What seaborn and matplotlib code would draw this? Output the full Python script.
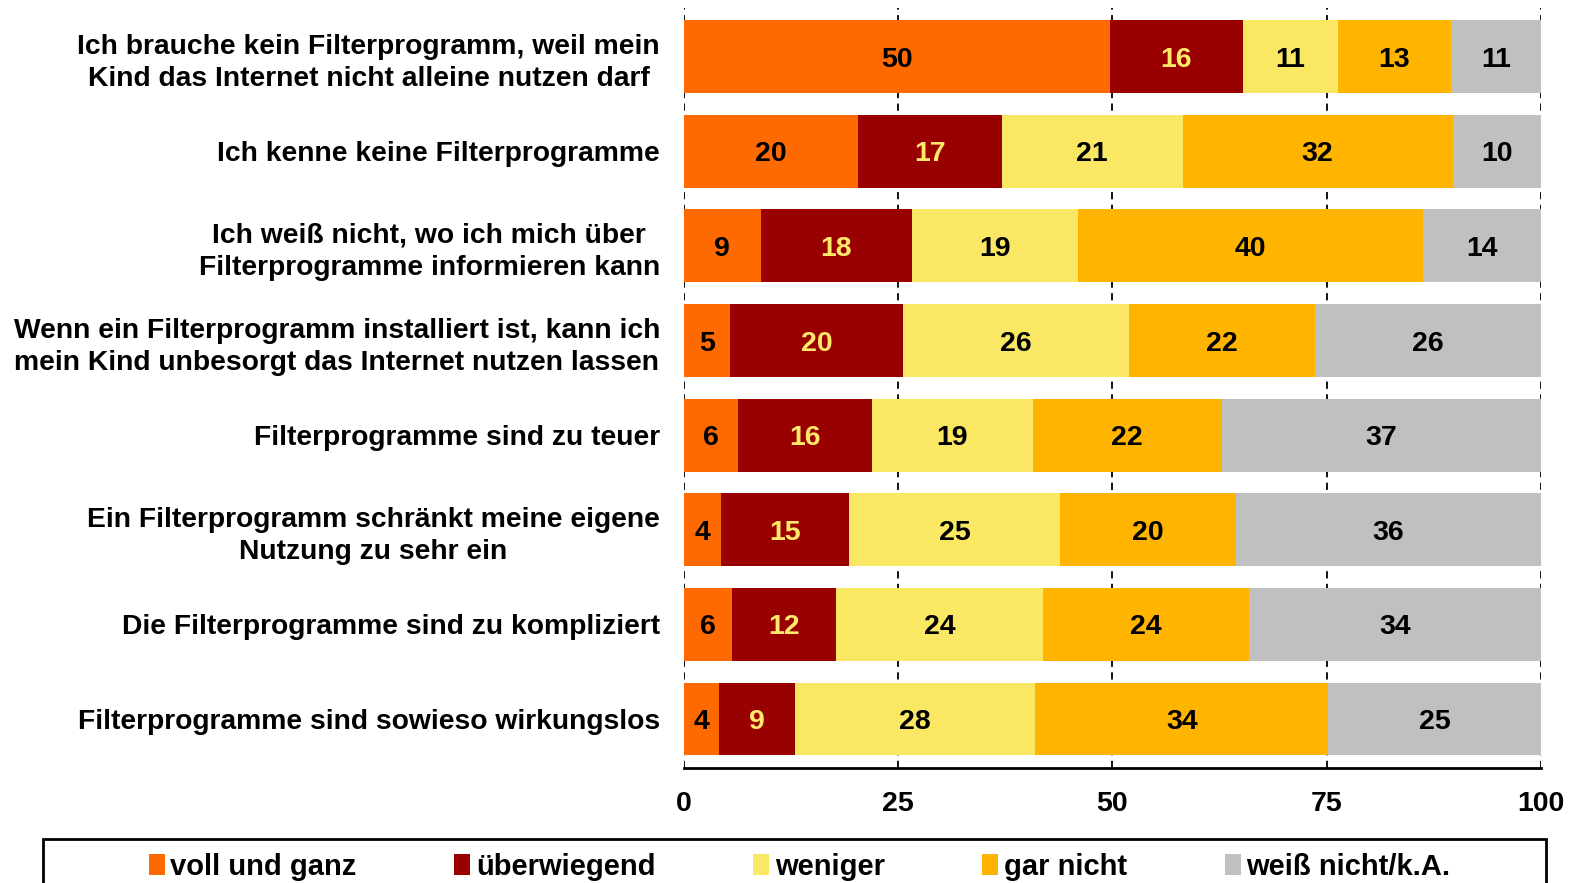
# Filterprogramme - gestapeltes Balkendiagramm (Zustimmung in %)
import numpy as np
import pandas as pd
import seaborn as sns
import matplotlib.pyplot as plt
from matplotlib.patches import Patch, Rectangle

# ================================
# 1. Daten
# ================================
aussagen = [
    "Ich brauche kein Filterprogramm, weil mein\nKind das Internet nicht alleine nutzen darf",
    "Ich kenne keine Filterprogramme",
    "Ich weiß nicht, wo ich mich über\nFilterprogramme informieren kann",
    "Wenn ein Filterprogramm installiert ist, kann ich\nmein Kind unbesorgt das Internet nutzen lassen",
    "Filterprogramme sind zu teuer",
    "Ein Filterprogramm schränkt meine eigene\nNutzung zu sehr ein",
    "Die Filterprogramme sind zu kompliziert",
    "Filterprogramme sind sowieso wirkungslos",
]

# Segmentbreiten und gerundete Beschriftungen
voll = [49.7, 20.3, 9.0, 5.4, 6.3, 4.4, 5.6, 4.1]
ueberwiegend = [15.5, 16.8, 17.6, 20.2, 15.7, 14.9, 12.2, 8.9]
weniger = [11.1, 21.1, 19.4, 26.3, 18.7, 24.6, 24.1, 28.0]
gar_nicht = [13.2, 31.5, 40.3, 21.8, 22.1, 20.5, 24.0, 34.2]
weiss_nicht = [10.5, 10.3, 13.7, 26.3, 37.2, 35.6, 34.1, 24.8]

voll_lbl = [50, 20, 9, 5, 6, 4, 6, 4]
ueberwiegend_lbl = [16, 17, 18, 20, 16, 15, 12, 9]
weniger_lbl = [11, 21, 19, 26, 19, 25, 24, 28]
gar_nicht_lbl = [13, 32, 40, 22, 22, 20, 24, 34]
weiss_nicht_lbl = [11, 10, 14, 26, 37, 36, 34, 25]

serien = ["voll und ganz", "überwiegend", "weniger", "gar nicht", "weiß nicht/k.A."]
farben = ["#FF6A00", "#990000", "#FAE864", "#FFB400", "#C0C0C0"]
textfarben = ["black", "#FFE86A", "black", "black", "black"]

df = pd.DataFrame({
    "Aussage": aussagen,
    serien[0]: voll,
    serien[1]: ueberwiegend,
    serien[2]: weniger,
    serien[3]: gar_nicht,
    serien[4]: weiss_nicht,
})
labels = [voll_lbl, ueberwiegend_lbl, weniger_lbl, gar_nicht_lbl, weiss_nicht_lbl]

# kumulierte Summen fuer das Stapeln
kum = df[serien].cumsum(axis=1)

# ================================
# 2. Plot
# ================================
sns.set_style("white")
plt.rcParams["font.family"] = ["Liberation Sans", "DejaVu Sans"]
plt.rcParams["font.weight"] = "bold"
plt.rcParams["text.color"] = "black"
plt.rcParams["xtick.color"] = "black"
plt.rcParams["ytick.color"] = "black"

fig = plt.figure(figsize=(15.74, 8.83), dpi=100)
ax = fig.add_axes([0.4343, 0.1307, 0.5447, 0.8602])

# von hinten (Gesamt) nach vorne zeichnen
for i in range(len(serien) - 1, -1, -1):
    sns.barplot(x=kum[serien[i]], y=df["Aussage"], orient="h", color=farben[i],
                width=0.77, linewidth=0, saturation=1, ax=ax, zorder=2)

# Beschriftungen in die Segmente
for i, s in enumerate(serien):
    start = kum[s] - df[s]
    mitte = start + df[s] / 2
    for j in range(len(aussagen)):
        ax.text(mitte[j], j, str(labels[i][j]), ha="center", va="center_baseline",
                fontsize=20.5, fontweight="bold", color=textfarben[i], zorder=5)

ax.set_xlim(0, 100)
ax.set_ylim(len(aussagen) - 0.486, -0.514)
ax.set_xticks([0, 25, 50, 75, 100])
ax.set_xlabel("")
ax.set_ylabel("")

ax.xaxis.grid(True, color="black", linestyle=(0, (4, 3)), linewidth=1.3, zorder=0)
ax.set_axisbelow(True)
for side in ["top", "right", "left"]:
    ax.spines[side].set_visible(False)
ax.spines["bottom"].set_linewidth(2)
ax.spines["bottom"].set_color("black")

ax.tick_params(axis="x", direction="inout", length=14, width=1.5, colors="black",
               labelsize=20.5, pad=10)
ax.tick_params(axis="y", length=0, labelsize=20.3, pad=17, colors="black")
for t in ax.get_xticklabels():
    t.set_fontweight("bold")
for t in ax.get_yticklabels():
    t.set_fontweight("bold")
    t.set_multialignment("center")
    t.set_linespacing(1.3)

# Legende unten (Rahmen separat, nach unten abgeschnitten)
fig.patches.append(Rectangle((43 / 1568, -0.05), (1540 - 43) / 1568, 0.05 + (1 - 836 / 880),
                             transform=fig.transFigure, facecolor="none",
                             edgecolor="black", linewidth=2))
handles = [Patch(facecolor=c, edgecolor="none") for c in farben]
leg = fig.legend(handles, serien, loc="center", ncol=5,
                 bbox_to_anchor=(0.508, 1 - 864 / 880),
                 bbox_transform=fig.transFigure, frameon=False,
                 handlelength=0.55, handleheight=0.75, handletextpad=0.2,
                 columnspacing=3.34,
                 prop={"weight": "bold", "size": 21})

fig.savefig("out.png", dpi=100)
